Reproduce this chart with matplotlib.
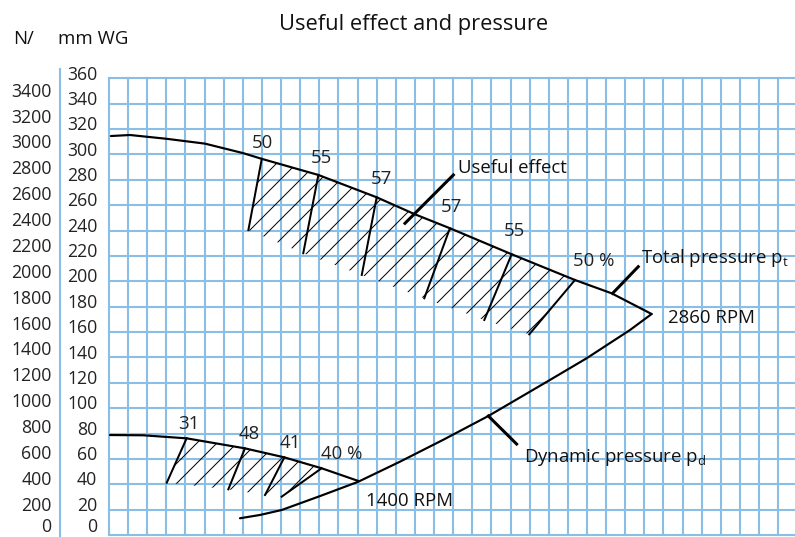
import matplotlib
matplotlib.use('Agg')
import matplotlib.pyplot as plt
import matplotlib.transforms as mtransforms
from matplotlib.lines import Line2D
import numpy as np

plt.rcParams['font.family'] = ['Open Sans', 'DejaVu Sans']
plt.rcParams['mathtext.fontset'] = 'custom'
plt.rcParams['mathtext.rm'] = 'Open Sans'
plt.rcParams['hatch.linewidth'] = 0.6

DPI = 120
W, H = 795, 537
FS_TICK = 10.6
FS_LAB = 11.2
FS_TITLE = 13.1
BLUE = '#8bbee4'

# ---------------- data ----------------
mm_ticks = list(range(0, 361, 20))          # mm WG
n_ticks = list(range(0, 3401, 200))         # N/m2
N_PER_MM = 9.80665
grid_cols = 35

# total pressure curve, 2860 RPM (x in grid units, y in mm WG)
total_x = [0.10, 1.10, 3.02, 5.02, 7.02, 7.99, 10.95, 14.00, 16.00, 17.83, 21.06, 24.37, 26.29, 28.38]
total_y = [314.5, 315.3, 312.3, 308.5, 301.0, 296.5, 283.8, 266.2, 252.8, 241.8, 221.3, 201.0, 190.5, 174.2]

# total pressure curve, 1400 RPM
low_x = [0.05, 1.79, 4.06, 7.11, 9.17, 11.12, 13.04]
low_y = [78.8, 78.6, 76.2, 68.3, 61.2, 52.6, 42.6]

# dynamic pressure curve
dyn_x = [6.85, 7.90, 9.03, 11.04, 13.04, 15.22, 17.50, 19.84, 23.06, 24.98, 27.25, 28.38]
dyn_y = [13.2, 15.8, 19.7, 30.7, 42.0, 57.8, 75.2, 93.8, 122.2, 139.3, 161.6, 174.2]

# useful effect (efficiency) marks, 2860 RPM
eff_hi_labels = ['50', '55', '57', '57', '55', '50 %']
eff_hi_top_x = [7.99, 10.95, 14.00, 17.83, 21.06, 24.37]
eff_hi_top_y = [296.5, 283.8, 266.2, 241.8, 221.3, 201.0]
eff_hi_bot_x = [7.29, 10.16, 13.22, 16.49, 19.63, 21.98]
eff_hi_bot_y = [240.4, 222.1, 205.0, 186.6, 169.5, 158.2]
eff_hi_lab_x = [8.04, 11.13, 14.23, 17.89, 21.20, 24.28]
eff_hi_lab_y = [304.8, 293.5, 276.7, 254.4, 235.7, 212.3]

# useful effect marks, 1400 RPM
eff_lo_labels = ['31', '48', '41', '40 %']
eff_lo_top_x = [4.06, 7.11, 9.17, 11.12]
eff_lo_top_y = [76.2, 68.3, 61.2, 52.6]
eff_lo_bot_x = [3.02, 6.24, 8.16, 9.03]
eff_lo_bot_y = [41.2, 36.0, 31.5, 30.2]
eff_lo_lab_x = [4.15, 7.34, 9.47, 11.07]
eff_lo_lab_y = [83.3, 75.4, 68.3, 59.9]

# leader lines
lead_useful_x, lead_useful_y = [15.48, 18.01], [245.7, 283.8]
lead_total_x, lead_total_y = [26.34, 27.68], [190.5, 211.5]
lead_dyn_x, lead_dyn_y = [19.84, 21.32], [93.8, 71.7]

# ---------------- figure ----------------
fig = plt.figure(figsize=(W / DPI, H / DPI), dpi=DPI)
fig.patch.set_facecolor('white')

x0_px, top_px, bot_px, col_px = 109, 78.3, 535, 19.12
ax = fig.add_axes([x0_px / W, (H - bot_px) / H, (W - x0_px) / W, (bot_px - top_px) / H])
ax.set_xlim(0, (W - x0_px) / col_px)
ax.set_ylim(0, 360)
ax.set_xticks(np.arange(0, grid_cols + 1))
ax.set_yticks(mm_ticks)
ax.tick_params(length=0, labelleft=False, labelbottom=False)
ax.grid(True, color=BLUE, lw=1.25)
ax.set_axisbelow(True)
for s in ax.spines.values():
    s.set_visible(False)
for gl in ax.get_xgridlines() + ax.get_ygridlines():
    gl.set_clip_on(False)

# left separator line
fig.add_artist(Line2D([60 / W, 60 / W], [0, 1 - 69.3 / H], transform=fig.transFigure,
                      color=BLUE, lw=1.25))


def tick_trans(right_px, dy_px):
    return mtransforms.blended_transform_factory(ax.transAxes, ax.transData) + \
        mtransforms.ScaledTranslation(-(x0_px - right_px) / DPI, dy_px / DPI, fig.dpi_scale_trans)


# tick labels (the zero labels sit a little higher so they stay inside the picture)
for v in mm_ticks:
    ax.text(0, v, str(v), transform=tick_trans(97.3, -1.2 if v else 2.5), ha='right',
            va='baseline', fontsize=FS_TICK, color='#222222', clip_on=False)
for v in n_ticks:
    ax.text(0, v / N_PER_MM, str(v), transform=tick_trans(51.5, -1.5 if v else 2.5), ha='right',
            va='baseline', fontsize=FS_TICK, color='#222222', clip_on=False)


def ftext(px, py, s, **kw):
    kw.setdefault('fontsize', FS_LAB)
    kw.setdefault('color', '#111111')
    kw.setdefault('va', 'baseline')
    fig.text(px / W, 1 - py / H, s, **kw)


ftext(414, 30, 'Useful effect and pressure', ha='center', fontsize=FS_TITLE)
ftext(13.3, 44.3, 'N/', ha='left')
ftext(58.3, 44.3, 'mm WG', ha='left')


# hatched bands
def band(top_x, top_y, bot_x, bot_y, cx, cy):
    lo, hi = top_x[0], top_x[-1]
    pts = [(x, y) for x, y in zip(top_x, top_y)]
    pts += [(x, y) for x, y in zip(cx, cy) if lo < x < hi and x not in top_x]
    pts.sort()
    pts += list(zip(bot_x, bot_y))[::-1]
    xs, ys = zip(*pts)
    ax.fill(xs, ys, facecolor='none', edgecolor='black', linewidth=0, hatch='//')


band(eff_hi_top_x, eff_hi_top_y, eff_hi_bot_x, eff_hi_bot_y, total_x, total_y)
band(eff_lo_top_x, eff_lo_top_y, eff_lo_bot_x, eff_lo_bot_y, low_x, low_y)

# curves
LW = 1.3
for cx, cy in [(total_x, total_y), (low_x, low_y), (dyn_x, dyn_y)]:
    ax.plot(cx, cy, color='black', lw=LW, solid_capstyle='round', solid_joinstyle='round')

for tx, ty, bx, by in zip(eff_hi_top_x, eff_hi_top_y, eff_hi_bot_x, eff_hi_bot_y):
    ax.plot([tx, bx], [ty, by], color='black', lw=1.2)
for tx, ty, bx, by in zip(eff_lo_top_x, eff_lo_top_y, eff_lo_bot_x, eff_lo_bot_y):
    ax.plot([tx, bx], [ty, by], color='black', lw=1.2)

for lab, lx, ly in zip(eff_hi_labels + eff_lo_labels, eff_hi_lab_x + eff_lo_lab_x,
                       eff_hi_lab_y + eff_lo_lab_y):
    ha = 'left' if '%' in lab else 'center'
    ax.text(lx, ly, lab, ha=ha, va='baseline', fontsize=FS_LAB, color='#222222')

ax.plot(lead_useful_x, lead_useful_y, color='black', lw=1.8)
ax.plot(lead_total_x, lead_total_y, color='black', lw=1.8)
ax.plot(lead_dyn_x, lead_dyn_y, color='black', lw=1.8)

ftext(458.3, 173.3, 'Useful effect', ha='left')
ftext(640.7, 263.3, r'Total pressure p$_{\rm t}$', ha='left')
ftext(667.7, 322.7, '2860 RPM', ha='left')
ftext(524, 461.7, r'Dynamic pressure p$_{\rm d}$', ha='left')
ftext(366, 506, '1400 RPM', ha='left')

fig.savefig('out.png', dpi=DPI, facecolor='white')
